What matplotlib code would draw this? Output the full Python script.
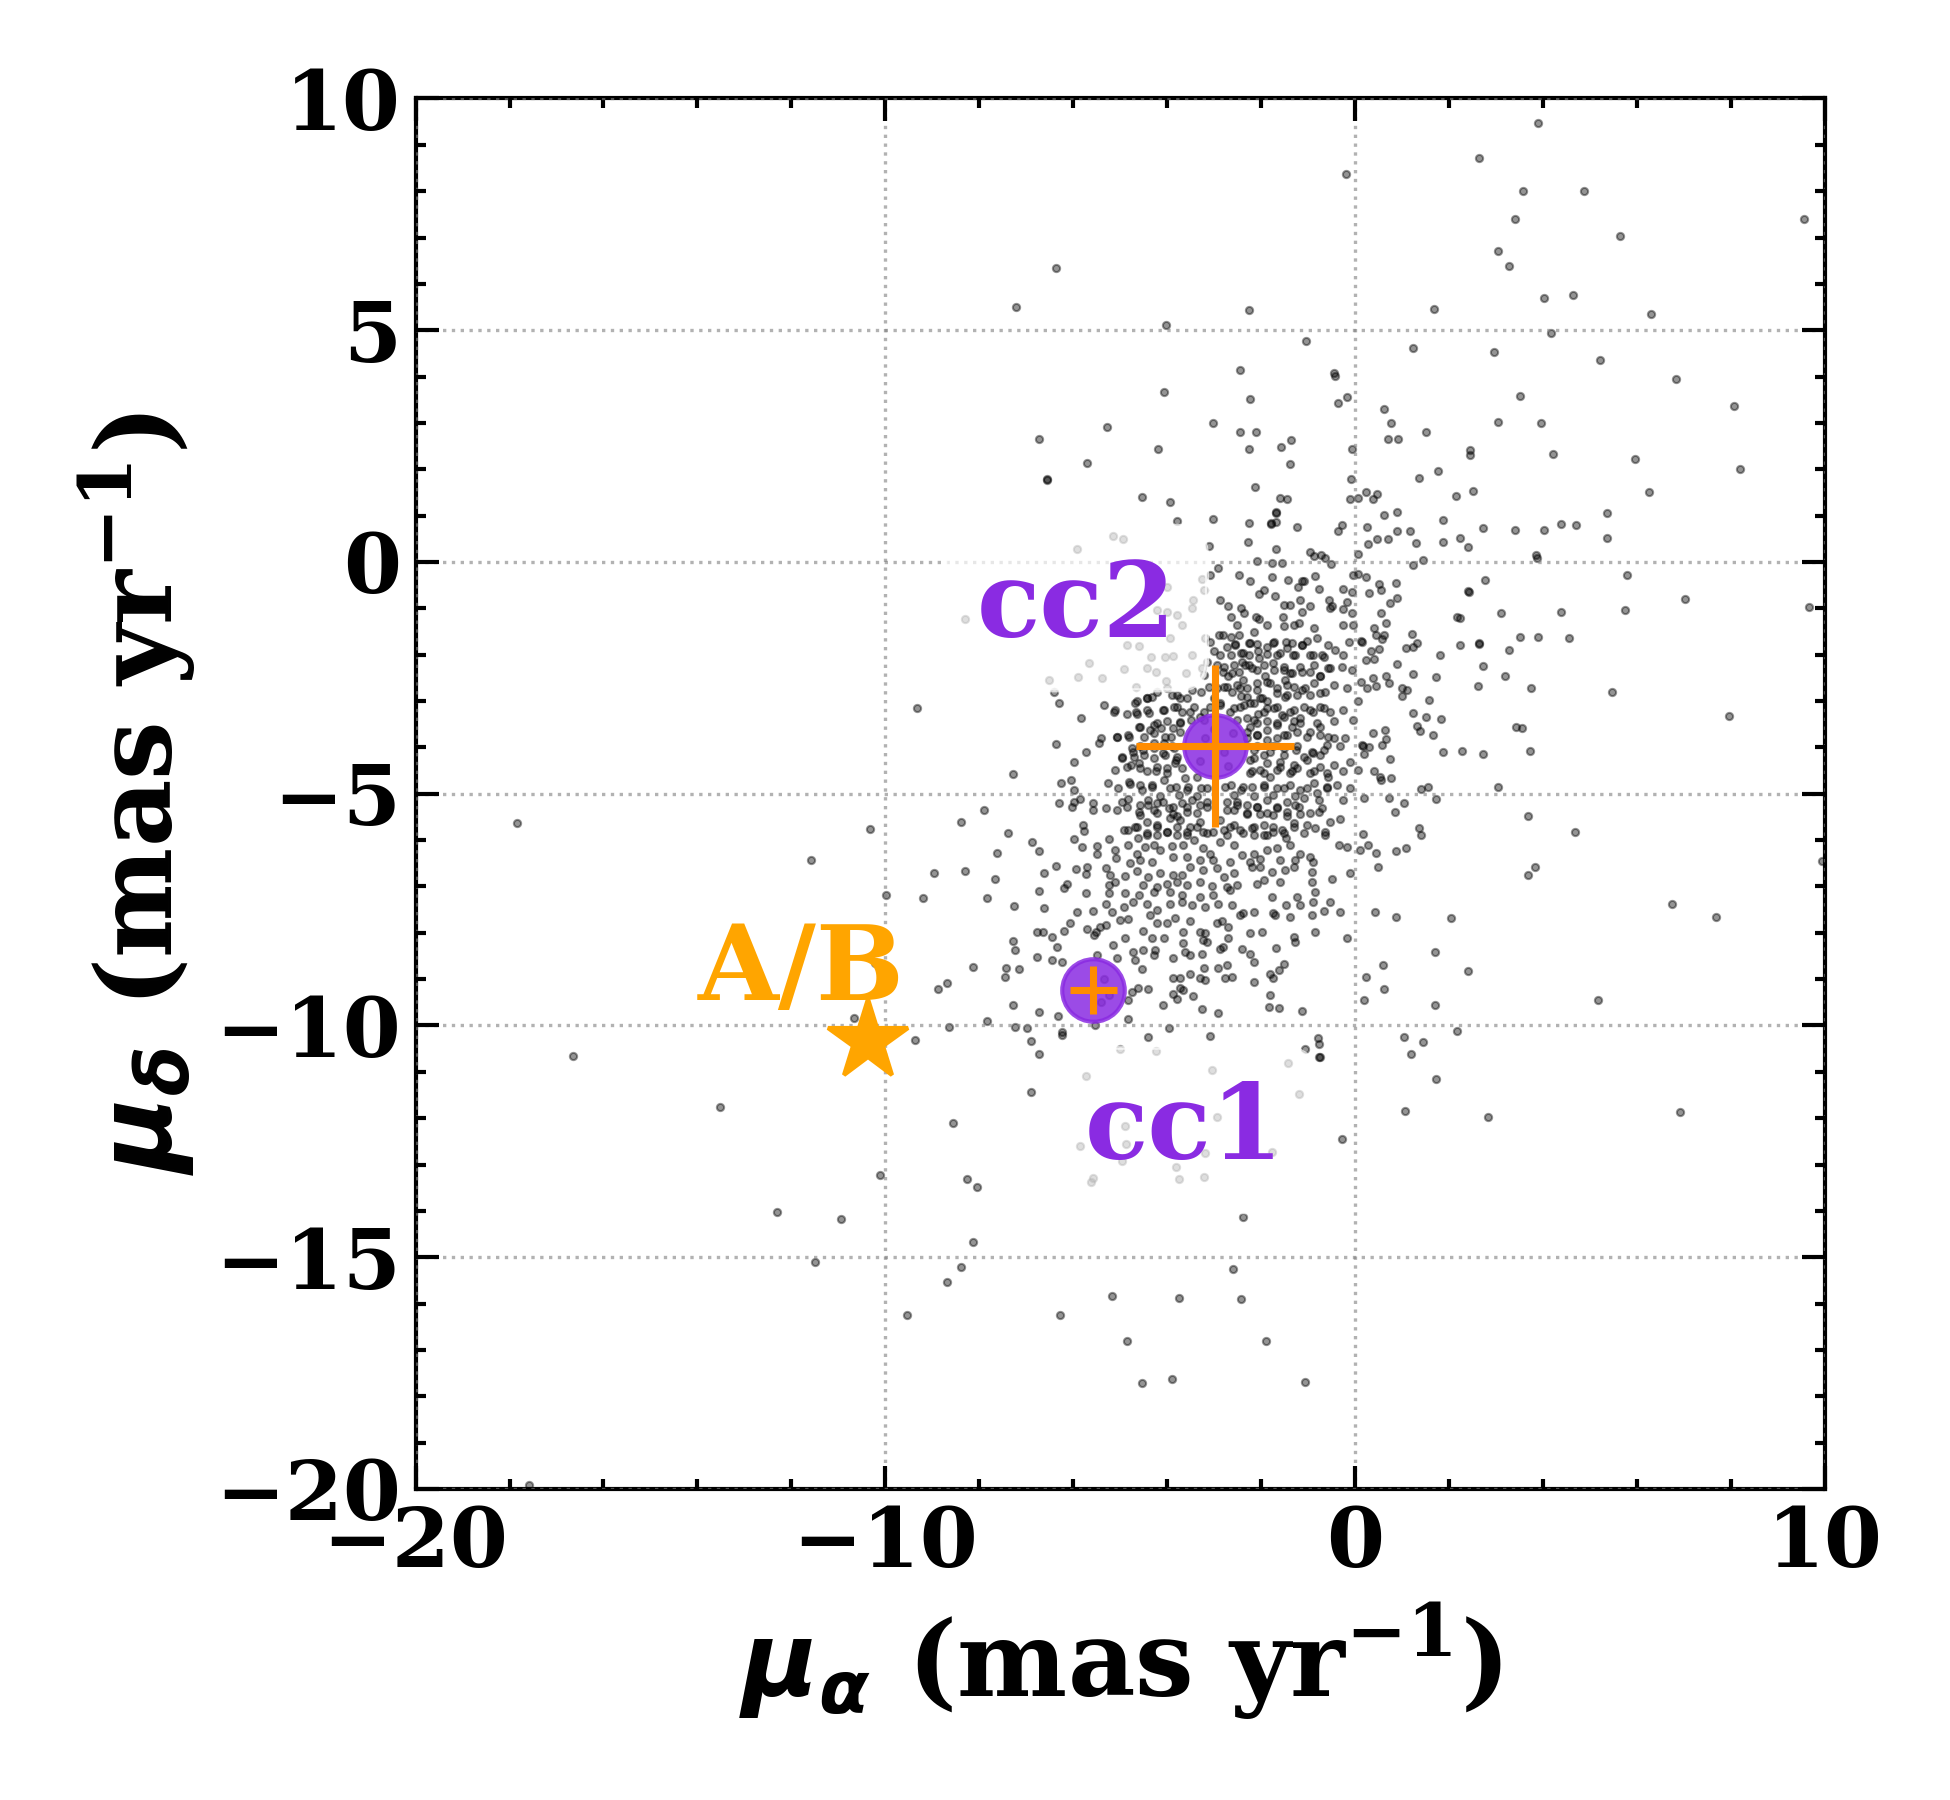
import matplotlib
matplotlib.use("Agg")
import matplotlib.pyplot as plt
import numpy as np

plt.rcParams['font.family'] = ['DejaVu Serif']
plt.rcParams['font.weight'] = 'bold'
plt.rcParams['mathtext.fontset'] = 'custom'
plt.rcParams['mathtext.rm'] = 'DejaVu Serif:bold'
plt.rcParams['mathtext.bf'] = 'DejaVu Serif:bold'
plt.rcParams['mathtext.it'] = 'DejaVu Sans:italic:bold'

# field stars, proper motions (mas/yr)
field_north = [(3.89,9.48),(2.64,8.71),(-0.20,8.36),(3.57,8.0),(4.88,8.0),(9.55,7.4),(3.40,7.4),(5.63,7.04),(3.05,6.7),(3.28,6.39),(-6.37,6.35),(-7.22,5.51),(-2.26,5.43),(1.67,5.45),(4.02,5.69),(4.64,5.75),(6.30,5.34),(-4.02,5.11),(4.17,4.93),(-1.04,4.76),(1.22,4.61),(2.96,4.53),(5.22,4.36),(-2.45,4.14),(-0.46,4.07),(-0.42,4.01),(6.82,3.95),(-4.07,3.67),(-2.24,3.51),(-0.37,3.44),(-0.17,3.56),(3.50,3.59),(8.06,3.37),(0.62,3.31),(-5.29,2.91),(-3.02,2.99),(0.77,2.99),(3.05,3.01),(3.95,2.99),(-6.73,2.66),(-2.45,2.8),(-2.11,2.8),(1.51,2.8),(0.69,2.66),(0.92,2.65),(-1.36,2.64),(-4.19,2.44),(-2.26,2.44),(-1.57,2.47),(-0.06,2.43),(2.45,2.41),(2.45,2.31),(4.22,2.34),(5.96,2.22),(8.19,2.01),(-5.70,2.13),(-1.39,2.11),(-6.56,1.8),(-6.55,1.76),(1.76,1.96),(1.35,1.81),(-0.09,1.79),(-2.13,1.62),(-4.54,1.41),(-3.94,1.3),(-1.59,1.38),(-1.45,1.36),(-0.12,1.36),(0.07,1.39),(0.23,1.51),(0.37,1.36),(0.47,1.46),(2.14,1.43),(2.51,1.53),(6.26,1.51),(-1.69,1.07),(-1.68,1.05),(0.61,1.01),(0.89,1.08),(5.36,1.06),(-3.79,0.89),(-3.03,0.93),(-2.26,0.83),(-1.79,0.84),(-1.80,0.82),(-1.69,0.86),(-1.24,0.76),(-0.28,0.79),(-0.37,0.66),(0.25,0.76),(1.87,0.91),(2.73,0.74),(3.40,0.7),(4.02,0.7),(4.39,0.82),(4.69,0.8),(0.88,0.66),(1.16,0.66),(0.47,0.5),(0.69,0.5),(0.28,0.39),(1.29,0.41),(1.87,0.44),(2.24,0.52),(2.41,0.33),(5.36,0.52),(-3.12,0.35),(-2.28,0.42),(-1.68,0.29),(-5.15,0.56),(-4.95,0.5),(-5.93,0.29),(-0.97,0.21),(-0.73,0.16),(0.07,0.18),(3.84,0.16)]

field_east = [(1.23,-0.06),(1.45,0.04),(3.87,0.09),(0.23,-0.32),(0.51,-0.47),(0.56,-0.6),(0.87,-0.45),(0.30,-0.67),(0.89,-0.78),(0.74,-0.88),(0.05,-0.27),(2.40,-0.62),(2.42,-0.64),(2.77,-0.39),(5.79,-0.28),(7.03,-0.80),(9.66,-0.97),(5.75,-1.04),(4.39,-1.08),(3.11,-1.1),(2.16,-1.19),(2.24,-1.2),(0.56,-1.1),(0.66,-1.31),(0.41,-1.42),(0.45,-1.57),(0.62,-1.57),(0.57,-1.66),(0.12,-1.7),(0.14,-1.72),(1.21,-1.55),(1.32,-1.75),(1.23,-1.83),(1.09,-1.85),(2.24,-1.79),(2.63,-1.74),(2.64,-1.78),(3.50,-1.62),(3.90,-1.62),(4.55,-1.65),(3.27,-1.90),(1.81,-2.01),(0.51,-1.87),(0.34,-1.92),(0.40,-2.09),(0.22,-2.11),(0.88,-2.2),(2.71,-2.24),(1.24,-2.42),(1.71,-2.49),(3.18,-2.46),(0.37,-2.51),(0.65,-2.47),(0.71,-2.62),(0.44,-2.68),(0.25,-2.72),(0.12,-2.6),(1.0,-2.71),(1.1,-2.77),(1.0,-2.89),(2.62,-2.68),(3.74,-2.71),(5.46,-2.81),(1.58,-2.97),(0.05,-2.99),(1.24,-3.26),(1.50,-3.35),(1.82,-3.39),(7.96,-3.33),(1.32,-3.54),(1.38,-3.64),(1.65,-3.74),(3.43,-3.55),(3.55,-3.59),(0.37,-3.69),(0.63,-3.63),(0.65,-3.81),(0.57,-3.95),(0.14,-3.95),(0.16,-3.97),(0.30,-3.99),(0.19,-4.15),(1.86,-4.11),(2.28,-4.08),(2.73,-4.15),(3.73,-4.07),(0.74,-4.26),(0.07,-4.49),(0.39,-4.52),(0.53,-4.64),(0.56,-4.71),(0.76,-4.66),(1.41,-4.9),(1.54,-4.86),(3.05,-4.86),(0.18,-5.09),(0.73,-5.09),(1.03,-5.21),(1.73,-5.12),(0.84,-5.4),(3.67,-5.49),(1.35,-5.75),(1.40,-5.89),(4.67,-5.82),(0.16,-5.88),(0.27,-6.11),(0.11,-6.22),(0.44,-6.28),(0.86,-6.24),(1.09,-6.17),(0.48,-6.59),(9.94,-6.46),(3.82,-6.59),(3.67,-6.76),(6.75,-7.38),(7.67,-7.67),(0.42,-7.55),(0.86,-7.66),(2.05,-7.69),(1.69,-8.41),(0.60,-8.7),(2.41,-8.83),(0.22,-8.95),(0.62,-9.22),(0.18,-9.46),(1.69,-9.55),(5.16,-9.46),(2.16,-10.13),(1.03,-10.25),(1.45,-10.35),(1.18,-10.62),(1.72,-11.15),(1.07,-11.84),(2.82,-11.97),(6.91,-11.87)]

core_north = [(-2.09,0.01),(-1.77,-0.03),(-1.56,-0.03),(-0.88,0.12),(-0.64,0.08),(-0.51,-0.05),(-2.92,-0.12),(-2.48,-0.28),(-2.24,-0.41),(-1.77,-0.32),(-1.42,-0.39),(-1.08,-0.41),(-0.85,-0.30),(-0.04,-0.28),(-3.08,-0.28),
(-2.04,-0.70),(-1.95,-0.60),(-1.70,-0.74),(-1.22,-0.53),(-1.13,-0.42),(-0.78,-0.58),(-0.25,-0.58),(-0.07,-0.64),(-2.87,-0.82),(-2.70,-0.96),(-2.44,-1.00),(-0.55,-0.82),(-0.18,-0.86),(-1.52,-0.93),(-1.38,-0.93),(-1.18,-0.82),(-0.96,-0.94),(-0.50,-0.96),
(-2.65,-1.18),(-2.37,-1.11),(-2.12,-1.18),(-2.05,-1.22),(-1.88,-1.37),(-1.54,-1.18),(-1.31,-1.36),(-1.20,-1.32),(-1.13,-1.07),(-0.26,-1.01),(-0.07,-1.11),(-0.25,-1.37),(-0.04,-1.36),(-2.51,-1.36),(-1.52,-1.39),(-0.88,-1.43),(-0.53,-1.00),
(-2.90,-1.57),(-2.81,-1.57),(-2.65,-1.61),(-2.48,-1.57),(-2.55,-1.78),(-2.27,-1.75),(-2.16,-1.52),(-2.09,-1.78),(-1.73,-1.73),(-1.47,-1.72),(-1.34,-1.75),(-1.13,-1.79),(-1.03,-1.70),(-0.81,-1.65),(-0.57,-1.79),(-0.42,-1.90),(-0.14,-1.73),(-3.09,-1.72),(-3.01,-1.93),(-2.65,-2.01),(-2.44,-1.97),(-2.27,-2.01),(-1.88,-1.99),(-1.66,-2.01),(-1.32,-2.01),(-0.97,-2.01),(-0.71,-2.01),(-0.25,-2.01),
(-3.15,-2.15),(-2.94,-2.22),(-2.81,-2.37),(-2.62,-2.40),(-2.34,-2.22),(-2.19,-2.29),(-2.05,-2.08),(-1.95,-2.22),(-1.73,-2.33),(-1.52,-2.26),(-1.39,-2.40),(-1.13,-2.37),(-0.88,-2.22),(-0.74,-2.47),(-0.53,-2.29),(-0.28,-2.26),(-0.07,-2.33),(-2.58,-2.22),(-3.22,-2.44),
(-4.43,-2.94),(-4.21,-2.80),(-4.00,-2.72),(-3.80,-2.87),(-3.58,-2.94),(-3.47,-2.76),(-3.29,-2.80),(-3.12,-2.69),(-2.94,-2.72),(-2.73,-2.69),(-2.51,-2.65),(-2.30,-2.72),(-2.09,-2.62),(-1.88,-2.58),(-1.66,-2.72),(-1.45,-2.65),(-1.24,-2.87),(-1.06,-2.72),(-0.88,-2.62),(-0.64,-2.80),(-0.46,-2.65),(-0.18,-2.72),(-6.41,-2.80),(-6.30,-3.05),(-1.45,-2.87),(-2.02,-2.94),(-2.44,-2.90),(-3.01,-2.94),
(-5.35,-3.09),(-5.13,-3.23),(-4.85,-3.29),(-4.67,-3.23),(-4.64,-3.01),(-5.84,-3.36),(-4.39,-3.25),(-4.07,-3.19),(-3.86,-3.12),(-3.68,-3.23),(-3.43,-3.12),(-3.22,-3.23),(-2.87,-3.09),(-2.58,-3.16),(-2.37,-3.09),(-2.16,-3.05),(-1.95,-3.23),(-1.73,-3.16),(-1.56,-3.30),(-1.38,-3.23),(-1.17,-3.37),(-0.96,-3.19),(-0.74,-3.12),(-0.53,-3.23),(-0.25,-3.19),(-0.04,-3.41),(-4.60,-3.55),(-4.28,-3.52),(-4.00,-3.44),(-3.72,-3.48),(-3.50,-3.41),(-3.22,-3.41),(-2.30,-3.37),(-2.09,-3.48),(-1.88,-3.44),(-1.66,-3.52),(-1.31,-3.44),(-0.81,-3.48),(-0.46,-3.44),
(-5.42,-3.80),(-5.06,-3.77),(-4.81,-3.77),(-4.50,-3.77),(-4.28,-3.70),(-4.14,-3.59),(-3.93,-3.77),(-3.72,-3.66),(-2.30,-3.66),(-2.09,-3.73),(-1.88,-3.84),(-1.66,-3.80),(-1.45,-3.73),(-1.24,-3.66),(-1.03,-3.77),(-0.74,-3.73),(-0.46,-3.80),(-0.21,-3.80),(-6.37,-3.93),(-5.45,-3.91),(-5.73,-4.11),(-4.74,-4.02),(-4.57,-3.98),(-4.28,-4.02),(-4.07,-3.91),(-3.86,-4.02),(-2.09,-3.98),(-1.81,-4.09),(-1.52,-4.02),(-1.24,-3.98),(-0.92,-4.09),(-0.60,-3.95),(-0.32,-3.98),
(-3.2,-3.8),(-2.8,-4.1),(-3.0,-3.6),(-2.7,-4.4),(-3.3,-4.3),(-2.6,-3.7),
(-5.98,-4.31),(-4.96,-4.23),(-4.71,-4.20),(-4.50,-4.16),(-4.28,-4.23),(-4.04,-4.16),(-3.82,-4.27),(-3.68,-4.45),(-2.16,-4.23),(-1.88,-4.34),(-1.59,-4.31),(-1.31,-4.38),(-1.03,-4.27),(-0.74,-4.16),(-0.46,-4.38),(-0.11,-4.31),(-4.78,-4.38),(-4.57,-4.45),(-4.25,-4.52),(-4.00,-4.45),(-2.19,-4.52),(-1.95,-4.56),(-1.66,-4.49),(-1.35,-4.52),(-0.88,-4.52),(-0.60,-4.56),(-0.25,-4.52),(-7.29,-4.57),
(-6.27,-4.77),(-6.05,-4.70),(-5.26,-4.77),(-4.81,-4.74),(-4.57,-4.81),(-4.32,-4.81),(-4.07,-4.70),(-3.82,-4.85),(-3.58,-4.92),(-3.29,-4.88),(-2.65,-4.81),(-2.44,-4.92),(-2.19,-4.85),(-1.95,-4.81),(-1.66,-4.88),(-1.38,-4.81),(-1.17,-4.92),(-0.88,-4.77),(-0.60,-4.88),(-0.39,-4.81),(-0.11,-4.88),(-5.98,-4.92)]

# second, closer reading of the densest part of the cluster
core_dense = [(-2.87,-2.01),(-2.55,-1.79),(-2.38,-1.97),(-2.23,-1.75),(-2.06,-1.93),(-1.88,-1.83),(-1.74,-1.75),(-1.60,-1.97),(-1.45,-1.86),(-1.28,-2.01),(-1.13,-1.79),(-0.89,-2.01),(-0.67,-2.04),(-2.73,-1.83),(-2.41,-2.15),
(-2.80,-2.26),(-2.70,-2.47),(-2.48,-2.37),(-2.27,-2.22),(-2.09,-2.33),(-1.91,-2.47),(-1.74,-2.19),(-1.52,-2.33),(-1.35,-2.40),(-1.17,-2.26),(-0.96,-2.37),(-0.74,-2.47),(-0.57,-2.29),(-2.38,-2.55),(-1.49,-2.55),
(-4.43,-2.94),(-4.33,-2.91),(-3.90,-2.87),(-3.73,-2.94),(-2.80,-2.69),(-2.62,-2.80),(-2.45,-2.73),(-2.30,-2.91),(-2.09,-2.76),(-1.99,-2.94),(-1.81,-2.62),(-1.67,-2.83),(-1.49,-2.91),(-1.31,-2.69),(-1.13,-2.76),(-0.96,-2.87),(-0.74,-2.83),(-1.88,-3.01),
(-5.11,-3.19),(-4.68,-3.05),(-4.65,-3.27),(-4.43,-3.19),(-4.08,-3.19),(-3.80,-3.12),(-3.51,-3.23),(-3.30,-3.34),(-3.09,-3.12),(-2.87,-3.05),(-2.66,-3.23),(-2.45,-3.12),(-2.23,-3.05),(-2.06,-3.27),(-1.88,-3.16),(-1.67,-3.12),(-1.52,-3.34),(-1.31,-3.19),(-1.10,-3.12),(-0.89,-3.23),(-0.67,-3.16),(-2.16,-3.41),(-2.52,-3.41),
(-5.07,-3.77),(-4.83,-3.73),(-4.58,-3.55),(-4.36,-3.62),(-4.22,-3.48),(-4.04,-3.77),(-3.87,-3.59),(-3.73,-3.45),(-2.23,-3.55),(-2.09,-3.73),(-1.88,-3.62),(-1.67,-3.48),(-1.52,-3.73),(-1.35,-3.55),(-1.17,-3.48),(-0.96,-3.66),(-0.74,-3.55),(-0.57,-3.77),(-2.30,-3.80),
(-4.97,-4.20),(-4.72,-4.09),(-4.51,-4.06),(-4.29,-3.91),(-4.08,-4.13),(-3.90,-3.98),(-3.80,-4.20),(-2.16,-4.06),(-1.95,-4.16),(-1.74,-3.98),(-1.52,-4.16),(-1.27,-4.06),(-1.10,-4.20),(-0.89,-4.13),(-0.67,-4.06),(-2.23,-4.27),
(-5.11,-4.49),(-4.86,-4.42),(-4.61,-4.34),(-4.43,-4.52),(-4.22,-4.42),(-4.01,-4.56),(-3.83,-4.34),(-3.62,-4.67),(-2.23,-4.56),(-2.02,-4.49),(-1.81,-4.63),(-1.60,-4.42),(-1.38,-4.56),(-1.23,-4.45),(-0.96,-4.56),(-0.74,-4.42),(-0.57,-4.63),(-3.37,-4.63),
(-5.04,-4.88),(-4.79,-4.78),(-4.54,-4.92),(-4.33,-4.85),(-4.15,-5.06),(-3.94,-4.88),(-3.76,-5.03),(-3.55,-4.85),(-3.37,-5.06),(-3.16,-4.88),(-2.77,-4.85),(-2.59,-5.03),(-2.38,-4.85),(-2.16,-5.06),(-1.95,-4.85),(-1.74,-5.03),(-1.52,-4.88),(-1.28,-5.06),(-1.03,-4.88),(-0.81,-4.99),(-0.60,-4.85),
(-5.07,-5.35),(-4.86,-5.28),(-4.61,-5.39),(-4.40,-5.24),(-4.22,-5.42),(-3.97,-5.31),(-3.80,-5.49),(-3.58,-5.28),(-3.37,-5.42),(-3.16,-5.28),(-2.73,-5.35),(-2.52,-5.24),(-2.30,-5.42),(-2.09,-5.28),(-1.88,-5.42),(-1.67,-5.31),(-1.45,-5.49),(-1.20,-5.28),(-0.96,-5.42),(-0.71,-5.31),
(-4.93,-5.78),(-4.68,-5.71),(-4.43,-5.85),(-4.22,-5.67),(-4.01,-5.82),(-3.80,-5.71),(-3.58,-5.89),(-3.37,-5.71),(-3.16,-5.85),(-2.80,-5.78),(-2.59,-5.67),(-2.38,-5.85),(-2.16,-5.71),(-1.95,-5.89),(-1.74,-5.71),(-1.52,-5.85),(-1.31,-5.71),(-1.10,-5.85),(-0.85,-5.75),(-0.64,-5.89)]

# stars that sit behind the cc2 label box
core_under_label = [(-3.26,-0.37),(-3.21,-0.60),(-3.45,-0.82),(-3.47,-0.99),(-4.00,-0.55),(-4.21,-1.03),(-4.00,-1.07),(-3.79,-1.14),(-3.68,-1.35),(-3.94,-1.63),(-4.86,-1.79),(-4.60,-1.81),(-5.66,-2.19),(-5.90,-2.49),(-6.51,-2.54),(-5.38,-2.51),(-4.92,-2.32),(-4.43,-2.29),(-4.34,-2.04),(-4.04,-2.04),(-3.87,-2.03),(-3.47,-2.01),(-4.25,-2.38),(-4.02,-2.57),(-3.61,-2.40),(-3.27,-2.29),(-3.19,-1.63),(-4.66,-2.69),(-8.30,-1.24)]

core_south = [(-6.30,-5.21),(-6.03,-5.28),(-5.98,-5.17),(-5.86,-5.12),(-5.57,-5.19),(-5.59,-5.35),(-5.31,-5.30),(-4.97,-5.17),(-4.83,-5.12),(-4.58,-5.25),(-4.40,-5.14),(-4.22,-5.21),(-4.08,-5.17),(-3.87,-5.28),(-3.69,-5.21),(-3.48,-5.14),(-3.30,-5.25),(-3.16,-5.17),(-2.73,-5.17),(-2.52,-5.17),(-2.31,-5.25),(-2.09,-5.28),(-1.88,-5.14),(-1.67,-5.28),(-1.45,-5.17),(-1.28,-5.25),(-1.10,-5.10),(-0.78,-5.14),(-0.78,-5.39),(-0.25,-5.14),(-1.17,-5.43),(-1.45,-5.39),(-1.74,-5.46),(-2.02,-5.43),(-2.31,-5.43),(-2.59,-5.35),(-3.58,-5.39),(-3.87,-5.43),(-4.29,-5.35),(-4.58,-5.46),
(-5.79,-5.68),(-5.77,-5.81),(-4.83,-5.78),(-4.65,-5.71),(-4.44,-5.61),(-4.22,-5.71),(-3.94,-5.53),(-3.73,-5.57),(-3.51,-5.71),(-3.30,-5.61),(-2.87,-5.57),(-2.66,-5.71),(-2.45,-5.78),(-2.20,-5.75),(-1.95,-5.68),(-1.74,-5.82),(-1.56,-5.78),(-1.31,-5.64),(-1.03,-5.68),(-0.53,-5.61),(-0.32,-5.55),(-0.64,-5.82),(-4.63,-5.96),(-4.44,-5.89),(-4.22,-5.89),(-4.01,-5.82),(-3.80,-5.89),(-3.58,-5.82),(-3.23,-5.82),(-3.02,-5.82),(-2.73,-5.89),(-2.16,-5.89),(-1.88,-5.89),(-1.47,-5.95),
(-7.40,-5.84),(-6.87,-6.05),(-6.74,-6.24),(-5.98,-5.98),(-5.82,-6.16),(-5.49,-6.13),(-5.50,-6.31),(-5.25,-5.98),(-5.11,-6.22),(-5.09,-6.38),(-4.83,-6.11),(-4.65,-6.29),(-4.47,-6.14),(-4.29,-6.11),(-4.15,-6.22),(-3.90,-6.12),(-3.66,-6.11),(-3.44,-6.00),(-3.23,-6.18),(-3.09,-6.29),(-2.87,-6.04),(-2.59,-6.11),(-2.41,-6.32),(-2.16,-6.29),(-1.88,-6.22),(-1.67,-6.18),(-1.38,-6.11),(-1.17,-6.29),(-0.96,-6.36),(-0.35,-6.11),(-0.18,-6.14),(-4.79,-6.50),(-4.58,-6.43),(-4.33,-6.47),(-3.87,-6.36),(-3.58,-6.36),(-3.30,-6.43),(-3.02,-6.43),(-2.66,-6.47),(-2.24,-6.47),(-2.02,-6.40),(-1.60,-6.43),(-1.28,-6.43),(-0.89,-6.47),
(-6.37,-6.55),(-6.62,-6.72),(-5.94,-6.63),(-5.71,-6.58),(-5.73,-6.74),(-5.30,-6.61),(-5.22,-6.76),(-4.90,-6.77),(-4.65,-6.67),(-4.40,-6.79),(-4.15,-6.72),(-3.87,-6.76),(-3.69,-6.76),(-3.51,-6.58),(-3.23,-6.65),(-2.94,-6.61),(-2.80,-6.79),(-2.59,-6.72),(-2.20,-6.58),(-2.02,-6.58),(-1.77,-6.68),(-1.49,-6.65),(-1.31,-6.58),(-0.92,-6.68),(-0.50,-6.83),(-0.12,-6.70),(-6.20,-7.04),(-6.14,-6.94),(-5.23,-6.97),(-5.11,-6.90),(-4.51,-6.97),(-4.22,-7.01),(-4.01,-6.94),(-3.80,-6.91),(-3.58,-6.96),(-3.30,-6.90),(-3.05,-6.99),(-2.73,-7.01),(-2.52,-6.97),(-2.09,-6.94),(-1.95,-6.86),(-1.60,-6.90),(-0.92,-6.90),
(-6.74,-7.09),(-5.74,-7.15),(-5.24,-7.14),(-4.91,-7.15),(-4.61,-7.19),(-4.29,-7.12),(-3.94,-7.12),(-3.69,-7.19),(-3.30,-7.22),(-3.02,-7.19),(-2.66,-7.08),(-1.77,-7.22),(-1.24,-7.22),(-0.85,-7.12),(-7.26,-7.42),(-6.62,-7.47),(-5.93,-7.56),(-5.59,-7.53),(-5.30,-7.39),(-5.18,-7.55),(-4.93,-7.44),(-4.72,-7.33),(-4.44,-7.37),(-4.22,-7.51),(-3.94,-7.37),(-3.69,-7.33),(-3.48,-7.40),(-3.19,-7.44),(-2.91,-7.37),(-2.63,-7.40),(-2.38,-7.58),(-2.16,-7.55),(-1.74,-7.58),(-1.47,-7.40),(-1.17,-7.40),(-0.89,-7.33),(-0.67,-7.53),(-0.53,-7.33),(-0.32,-7.55),
(-6.78,-7.98),(-6.64,-7.99),(-6.46,-8.09),(-6.19,-7.96),(-6.08,-7.80),(-5.70,-7.91),(-5.52,-7.98),(-5.43,-7.87),(-5.30,-7.83),(-5.00,-7.73),(-4.83,-7.71),(-4.51,-7.96),(-4.37,-7.62),(-4.22,-7.80),(-4.01,-7.80),(-3.83,-7.68),(-3.66,-7.98),(-3.51,-7.75),(-3.30,-7.98),(-3.19,-8.01),(-2.94,-7.80),(-2.84,-7.75),(-2.70,-7.87),(-2.45,-7.62),(-2.24,-8.01),(-1.99,-7.99),(-1.70,-7.62),(-1.38,-7.65),(-0.92,-7.62),(-0.86,-7.98),(-5.56,-8.05),
(-7.29,-8.17),(-7.24,-8.37),(-6.78,-8.52),(-6.35,-8.30),(-6.45,-8.59),(-6.23,-8.63),(-5.50,-8.47),(-5.15,-8.27),(-4.89,-8.12),(-4.73,-8.41),(-4.68,-8.59),(-4.52,-8.37),(-4.33,-8.12),(-4.29,-8.48),(-4.26,-8.37),(-4.06,-8.12),(-3.87,-8.55),(-3.67,-8.23),(-3.62,-8.41),(-3.51,-8.48),(-3.24,-8.16),(-3.16,-8.19),(-3.26,-8.45),(-2.87,-8.34),(-2.82,-8.30),(-2.70,-8.12),(-2.41,-8.34),(-2.24,-8.45),(-2.16,-8.63),(-1.68,-8.32),(-1.31,-8.09),(-1.28,-8.19),(-0.18,-8.11),
(-7.43,-8.75),(-7.15,-8.78),(-7.45,-8.95),(-5.08,-8.55),(-4.53,-8.78),(-3.87,-8.98),(-3.73,-8.98),(-3.51,-8.88),(-3.21,-8.75),(-2.91,-8.75),(-2.73,-8.70),(-3.30,-8.97),(-3.19,-9.02),(-2.78,-8.97),(-2.63,-8.95),(-2.15,-9.06),(-1.81,-8.88),(-1.74,-8.98),(-1.63,-8.80),(-1.52,-8.68),
(-4.63,-9.19),(-4.76,-9.27),(-4.83,-9.45),(-4.40,-9.21),(-3.87,-9.33),(-3.73,-9.20),(-3.66,-9.24),(-3.46,-9.37),(-3.80,-9.42),(-4.08,-9.56),(-3.25,-9.65),(-1.81,-9.34),(-1.84,-9.61),(-1.63,-9.63),(-7.29,-9.56),
(-6.74,-9.72),(-6.32,-9.80),(-4.83,-9.85),(-2.91,-9.74),(-1.13,-9.69),(-7.24,-10.03),(-6.98,-10.06),(-6.23,-10.15),(-5.54,-9.99),(-3.97,-10.06),
(-5.35,-9.0),(-5.25,-9.35),(-5.4,-9.5)]

field_west = [(-17.83,-5.63),(-10.32,-5.76),(-11.59,-6.44),(-8.38,-5.6),(-9.32,-3.16),(-8.96,-6.72),(-8.31,-6.66),(-9.98,-7.18),(-9.19,-7.25),(-7.83,-7.25),(-7.89,-5.36),(-7.62,-6.28),(-7.67,-6.83),(-10.21,-8.65),(-8.13,-8.73),(-8.68,-9.09),(-8.87,-9.22),(-10.67,-9.84),(-7.83,-9.9),(-8.65,-10.03),(-9.36,-10.32),(-16.64,-10.65),(-13.53,-11.75),(-8.55,-12.1),(-10.12,-13.23),(-8.26,-13.32),(-8.04,-13.48),(-12.30,-14.03),(-10.95,-14.17),(-8.13,-14.68),(-11.49,-15.1),(-8.40,-15.21),(-8.68,-15.53),(-9.54,-16.24),(-17.58,-19.92)]

field_south = [(-6.89,-10.33),(-6.24,-10.2),(-6.72,-10.61),(-4.40,-10.24),(-3.08,-10.22),(-0.80,-10.26),(-0.78,-10.4),(-0.78,-10.67),(-0.75,-10.69),(-1.07,-10.5),(-6.89,-11.44),(-0.27,-12.45),(-2.38,-14.14),(-2.61,-15.26),(-5.17,-15.84),(-3.76,-15.88),(-2.42,-15.9),(-6.28,-16.25),(-4.85,-16.8),(-1.89,-16.8),(-4.53,-17.72),(-3.89,-17.63),(-1.06,-17.7)]

# stars that sit behind the cc1 label box
south_under_label = [(-5.0,-10.5),(-4.23,-10.56),(-5.74,-11.09),(-3.04,-10.96),(-1.42,-10.81),(-1.19,-11.48),(-2.95,-11.98),(-4.89,-12.16),(-4.87,-12.56),(-5.85,-12.6),(-4.96,-12.93),(-3.20,-12.75),(-1.78,-12.73),(-3.81,-13.06),(-3.74,-13.31),(-3.21,-13.27),(-5.59,-13.29),(-5.62,-13.37)]

# companion candidates and primary
cc_names = ['cc1', 'cc2']
cc_pmra = [-5.57, -2.98]
cc_pmdec = [-9.23, -3.97]
cc_pmra_err = [0.51, 1.68]
cc_pmdec_err = [0.52, 1.74]
cc_label_xy = [(-3.64, -12.88), (-5.94, -1.62)]
ab_pmra = -10.38
ab_pmdec = -10.33

field = np.array(field_north + field_east + core_north + core_dense + core_under_label +
                 core_south + field_west + field_south + south_under_label)

fig = plt.figure(figsize=(6.5, 6), dpi=300)
ax = fig.add_axes([0.2131, 0.1728, 0.7228, 0.7725])

ax.scatter(field[:, 0], field[:, 1], s=3.0, c='black', edgecolors='black',
           linewidths=0.5, alpha=0.42, zorder=1)

ax.plot(cc_pmra, cc_pmdec, 'o', ms=15, color='blueviolet', alpha=0.85, zorder=3)
ax.errorbar(cc_pmra, cc_pmdec, xerr=cc_pmra_err, yerr=cc_pmdec_err, fmt='none',
            ecolor='darkorange', elinewidth=1.7, capsize=0, zorder=4)
ax.plot(ab_pmra, ab_pmdec, '*', ms=20, color='orange', zorder=4)

box = dict(boxstyle='round,pad=0.3', fc='white', ec='white', alpha=0.7)
for name, (tx, ty) in zip(cc_names, cc_label_xy):
    ax.text(tx, ty, name, color='blueviolet', fontsize=25, fontweight='bold',
            ha='center', va='baseline', bbox=box, zorder=5)
ax.text(-11.79, -9.45, 'A/B', color='orange', fontsize=25, fontweight='bold',
        ha='center', va='baseline', zorder=5)

ax.set_xlim(-20, 10)
ax.set_ylim(-20, 10)
ax.set_xticks([-20, -10, 0, 10])
ax.set_yticks([-20, -15, -10, -5, 0, 5, 10])
ax.set_xticks(np.arange(-20, 11, 2), minor=True)
ax.set_yticks(np.arange(-20, 11, 1), minor=True)
ax.tick_params(which='both', direction='in', top=True, right=True, width=1.0,
               labelsize=20)
ax.tick_params(which='major', length=5.5)
ax.tick_params(which='minor', length=2.5)
for sp in ax.spines.values():
    sp.set_linewidth(1.0)
ax.set_axisbelow(False)
ax.grid(True, which='major', linestyle=':', color='gray', alpha=0.6, lw=0.8)

ax.set_xlabel(r'$\mu_\alpha$ (mas yr$^{-1}$)', fontsize=25, fontweight='bold')
ax.set_ylabel(r'$\mu_\delta$ (mas yr$^{-1}$)', fontsize=25, fontweight='bold')

fig.savefig('out.png', dpi=300)
